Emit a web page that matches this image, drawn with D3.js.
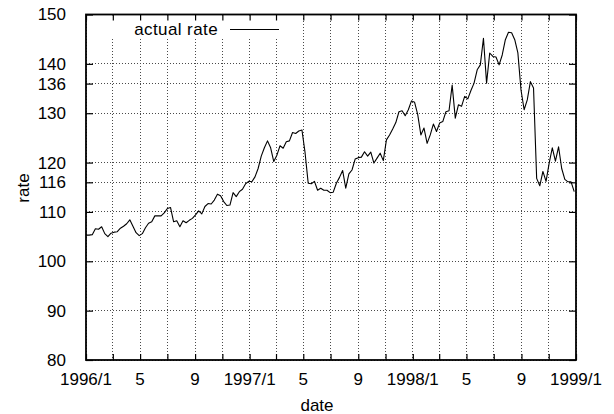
<!DOCTYPE html>
<html>
<head>
<meta charset="utf-8">
<script src="https://cdn.jsdelivr.net/npm/d3@7"></script>
<style>
  body { margin: 0; background: #fff; }
  svg { display: block; font-family: "Liberation Sans", Arial, sans-serif; }
</style>
</head>
<body>
<svg id="chart" width="614" height="414"></svg>
<script>
// weekly rate, first week starting 1996-01-01
var startDate = '1996-01-01';
var rates = [
  105.3, 105.3, 105.4, 106.6, 106.5, 107.0, 105.6, 105.0, 105.7, 105.9,
  106.0, 106.7, 107.1, 107.6, 108.4, 107.1, 105.8, 105.2, 105.6, 106.8,
  107.7, 108.0, 109.2, 109.2, 109.2, 109.8, 110.7, 110.9, 108.0, 108.2,
  107.0, 108.2, 107.8, 108.3, 108.7, 109.4, 110.2, 109.6, 111.1, 111.7,
  111.6, 112.4, 113.6, 113.3, 112.1, 111.3, 111.4, 113.9, 113.1, 114.1,
  114.6, 115.7, 116.2, 116.1, 117.1, 118.8, 121.3, 123.0, 124.4, 123.0,
  120.2, 121.5, 123.4, 122.9, 124.2, 124.4, 126.1, 125.9, 126.4, 126.6,
  122.0, 115.8, 115.7, 116.2, 114.4, 114.8, 114.4, 114.4, 113.9, 114.0,
  115.8, 117.0, 118.4, 114.8, 117.7, 118.5, 120.7, 121.0, 121.1, 122.2,
  121.3, 122.1, 119.9, 120.9, 121.9, 120.4, 124.6, 125.6, 126.8, 128.1,
  130.3, 130.5, 129.5, 130.7, 132.5, 132.2, 129.7, 125.6, 127.0, 123.9,
  125.6, 127.8, 126.3, 128.0, 128.3, 130.3, 130.5, 135.7, 129.0, 131.7,
  131.4, 133.4, 132.9, 134.6, 136.1, 138.8, 139.8, 145.2, 136.1, 142.2,
  141.5, 141.4, 139.8, 141.8, 144.9, 146.4, 146.3, 144.9, 142.2, 134.7,
  130.7, 132.7, 136.4, 135.1, 116.8, 115.3, 118.2, 116.2, 119.9, 123.0,
  120.3, 123.2, 118.8, 116.6, 116.1, 116.1, 114.1
];

var xDomain = ['1996-01-01', '1999-01-01'];
var gridDates = [
  '1996-01-01', '1996-03-01', '1996-05-01', '1996-07-01', '1996-09-01', '1996-11-01',
  '1997-01-01', '1997-03-01', '1997-05-01', '1997-07-01', '1997-09-01', '1997-11-01',
  '1998-01-01', '1998-03-01', '1998-05-01', '1998-07-01', '1998-09-01', '1998-11-01',
  '1999-01-01'
];
var labelDates = ['1996-01-01', '1996-05-01', '1996-09-01', '1997-01-01', '1997-05-01',
                  '1997-09-01', '1998-01-01', '1998-05-01', '1998-09-01', '1999-01-01'];
var labelTexts = ['1996/1', '5', '9', '1997/1', '5', '9', '1998/1', '5', '9', '1999/1'];
var yDomain = [80, 150];
var yTicks = [80, 90, 100, 110, 116, 120, 130, 136, 140, 150];

var margin = { top: 14.5, right: 38, bottom: 54, left: 86 },
    W = 614, H = 414,
    width = W - margin.left - margin.right,
    height = H - margin.top - margin.bottom,
    parse = d3.timeParse('%Y-%m-%d');

var svg = d3.select('#chart');
var g = svg.append('g')
    .attr('transform', 'translate(' + margin.left + ',' + margin.top + ')');

var x = d3.scaleTime().domain(xDomain.map(parse)).range([0, width]);
var y = d3.scaleLinear().domain(yDomain).range([height, 0]);

var t0 = parse(startDate);
var data = rates.map(function(v, i) {
  return { date: d3.timeDay.offset(t0, i * 7), value: v };
});

// grid
g.append('g')
  .attr('class', 'grid')
  .selectAll('line.gx')
  .data(gridDates.map(parse))
  .enter().append('line')
  .attr('x1', function(d) { return x(d); })
  .attr('x2', function(d) { return x(d); })
  .attr('y1', 0)
  .attr('y2', height);
g.select('g.grid')
  .selectAll('line.gy')
  .data(yTicks)
  .enter().append('line')
  .attr('x1', 0)
  .attr('x2', width)
  .attr('y1', function(d) { return y(d); })
  .attr('y2', function(d) { return y(d); });
g.selectAll('g.grid line')
  .attr('stroke', '#4a4a4a')
  .attr('stroke-width', 1)
  .attr('stroke-dasharray', '1,2')
  .attr('shape-rendering', 'crispEdges');

// opaque key box
g.append('rect')
  .attr('x', 14)
  .attr('y', 1)
  .attr('width', 192)
  .attr('height', 22.5)
  .attr('fill', '#fff');

// data line
g.append('path')
  .datum(data)
  .attr('fill', 'none')
  .attr('stroke', '#000')
  .attr('stroke-width', 1.1)
  .attr('stroke-linejoin', 'round')
  .attr('d', d3.line()
    .x(function(d) { return x(d.date); })
    .y(function(d) { return y(d.value); }));

// axes: ticks inward on all four sides
var yLeft = d3.axisLeft(y).tickValues(yTicks).tickSize(-7).tickPadding(20);
var yRight = d3.axisRight(y).tickValues(yTicks).tickSize(-7).tickFormat('');
var xBottom = d3.axisBottom(x).tickValues(gridDates.map(parse)).tickSize(-6).tickFormat('');
var xTop = d3.axisTop(x).tickValues(gridDates.map(parse)).tickSize(-6).tickFormat('');

g.append('g').attr('class', 'axis').call(yLeft);
g.append('g').attr('class', 'axis').attr('transform', 'translate(' + width + ',0)').call(yRight);
g.append('g').attr('class', 'axis').attr('transform', 'translate(0,' + height + ')').call(xBottom);
g.append('g').attr('class', 'axis').call(xTop);

g.selectAll('.axis .domain').remove();
g.selectAll('.axis line').attr('stroke', '#000').attr('stroke-width', 1.2);
g.selectAll('.axis text')
  .attr('fill', '#000')
  .style('font-size', '17px')
  .style('font-family', '"Liberation Sans", Arial, sans-serif');

// x labels
g.append('g')
  .selectAll('text')
  .data(labelDates)
  .enter().append('text')
  .attr('x', function(d) { return x(parse(d)); })
  .attr('y', height + 25)
  .attr('text-anchor', 'middle')
  .style('font-size', '17px')
  .text(function(d, i) { return labelTexts[i]; });

// border
g.append('rect')
  .attr('x', 0)
  .attr('y', 0)
  .attr('width', width)
  .attr('height', height)
  .attr('fill', 'none')
  .attr('stroke', '#000')
  .attr('stroke-width', 1.8);

// key
g.append('text')
  .attr('x', 132)
  .attr('y', 20.5)
  .attr('text-anchor', 'end')
  .style('font-size', '17px')
  .style('letter-spacing', '0.4px')
  .text('actual rate');
g.append('line')
  .attr('x1', 144)
  .attr('x2', 193)
  .attr('y1', 15)
  .attr('y2', 15)
  .attr('stroke', '#000')
  .attr('stroke-width', 1.1);

// axis titles
svg.append('text')
  .attr('x', margin.left + width / 2 - 14)
  .attr('y', 411)
  .attr('text-anchor', 'middle')
  .style('font-size', '17px')
  .text('date');
svg.append('text')
  .attr('transform', 'translate(29,188) rotate(-90)')
  .attr('text-anchor', 'middle')
  .style('font-size', '17px')
  .text('rate');
</script>
</body>
</html>
